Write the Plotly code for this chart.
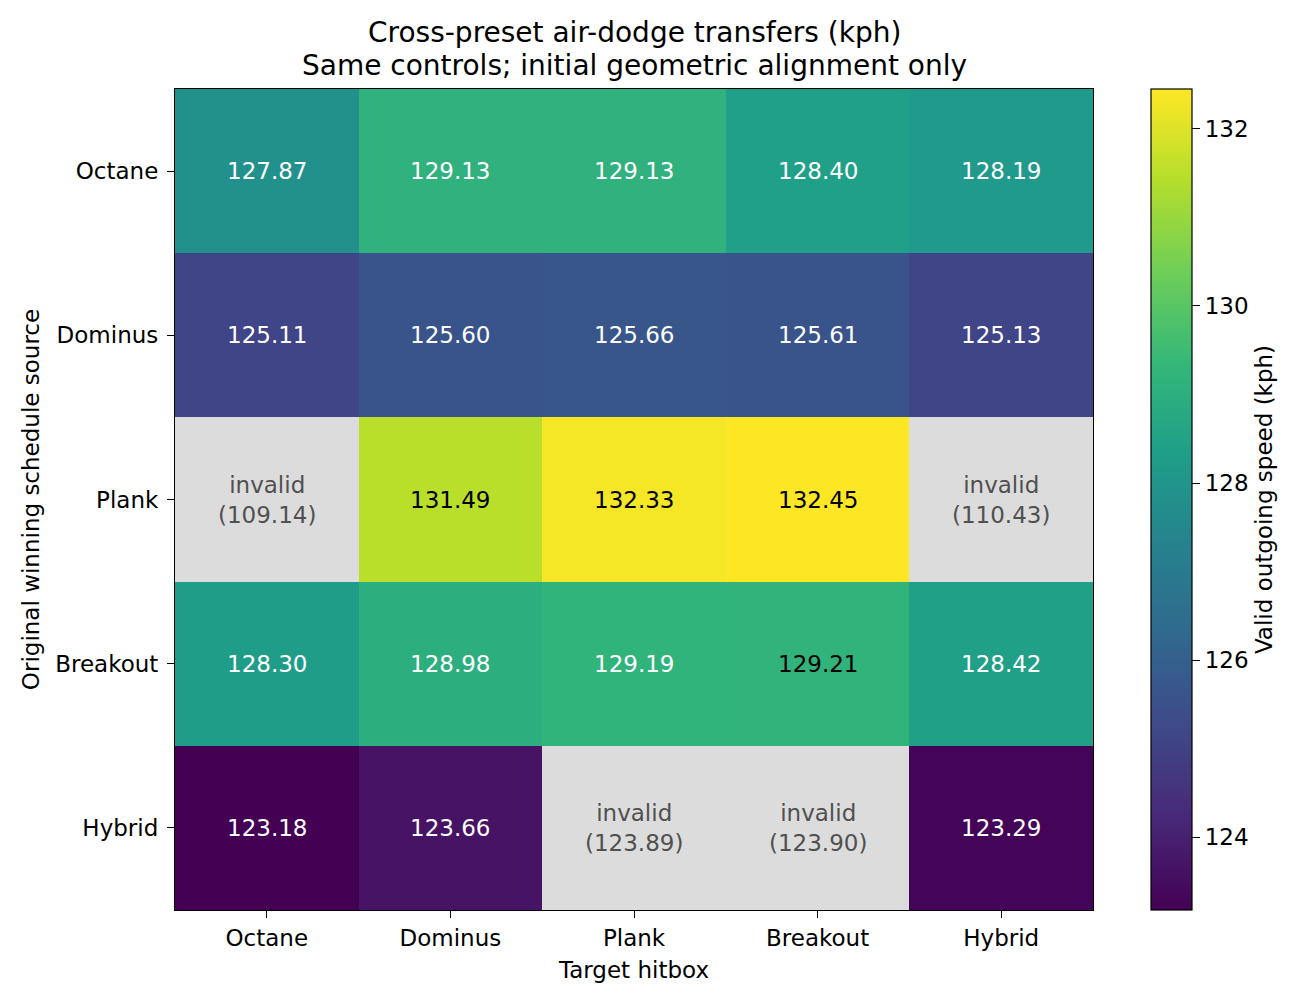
import plotly.graph_objects as go

targets = ['Octane', 'Dominus', 'Plank', 'Breakout', 'Hybrid']
sources = ['Octane', 'Dominus', 'Plank', 'Breakout', 'Hybrid']
speeds = [
    [127.87, 129.13, 129.13, 128.40, 128.19],
    [125.11, 125.60, 125.66, 125.61, 125.13],
    [109.14, 131.49, 132.33, 132.45, 110.43],
    [128.30, 128.98, 129.19, 129.21, 128.42],
    [123.18, 123.66, 123.89, 123.90, 123.29],
]
valid = [
    [1, 1, 1, 1, 1],
    [1, 1, 1, 1, 1],
    [0, 1, 1, 1, 0],
    [1, 1, 1, 1, 1],
    [1, 1, 0, 0, 1],
]
title_lines = ['Cross-preset air-dodge transfers (kph)',
               'Same controls; initial geometric alignment only']

good = [v for row, ok in zip(speeds, valid) for v, k in zip(row, ok) if k]
zmin, zmax = min(good), max(good)
z = [[v if k else None for v, k in zip(row, ok)] for row, ok in zip(speeds, valid)]

font = 'DejaVu Sans'
fs = 23
fig = go.Figure()
fig.add_trace(go.Heatmap(
    x=targets, y=sources, z=z, zmin=zmin, zmax=zmax,
    colorscale='Viridis', hoverongaps=False,
    colorbar=dict(
        x=1.0632, xanchor='left', xref='paper', y=0.5, yanchor='middle',
        xpad=0, ypad=0,
        len=1, lenmode='fraction', thickness=41, thicknessmode='pixels',
        outlinecolor='black', outlinewidth=1.2,
        ticks='outside', ticklen=8, tickcolor='black',
        tickvals=[124, 126, 128, 130, 132],
        tickfont=dict(family=font, size=fs, color='black'),
        title=dict(text='Valid outgoing speed (kph)', side='right',
                   font=dict(family=font, size=fs, color='black')),
    ),
))

annotations = []
for i, src in enumerate(sources):
    for j, tgt in enumerate(targets):
        v = speeds[i][j]
        if valid[i][j]:
            frac = (v - zmin) / (zmax - zmin)
            txt = f'{v:.2f}'
            col = 'black' if frac > 0.65 else 'white'
        else:
            txt = f'invalid<br>({v:.2f})'
            col = '#505050'
        annotations.append(dict(
            x=tgt, y=src, xref='x', yref='y', text=txt, showarrow=False,
            font=dict(family=font, size=fs, color=col),
        ))

# two-line title, placed as annotations to get matplotlib-like line spacing
for line, ypos in zip(title_lines, [1.0694, 1.0292]):
    annotations.append(dict(
        x=0.5, y=ypos, xref='paper', yref='paper', text=line, showarrow=False,
        xanchor='center', yanchor='middle',
        font=dict(family=font, size=28, color='black'),
    ))

fig.update_layout(
    width=1296, height=992,
    margin=dict(l=167, r=211, t=81, b=90),
    paper_bgcolor='white', plot_bgcolor='#dcdcdc',
    font=dict(family=font, size=fs, color='black'),
    annotations=annotations,
    xaxis=dict(
        title=dict(text='Target hitbox', standoff=12, font=dict(family=font, size=fs)),
        ticks='outside', ticklen=7, tickcolor='black',
        tickfont=dict(family=font, size=fs),
        showline=True, linecolor='black', linewidth=1.2, mirror=True,
        showgrid=False, zeroline=False,
    ),
    yaxis=dict(
        title=dict(text='Original winning schedule source', standoff=9, font=dict(family=font, size=fs)),
        autorange='reversed',
        ticks='outside', ticklen=7, tickcolor='black', ticklabelstandoff=4,
        tickfont=dict(family=font, size=fs),
        showline=True, linecolor='black', linewidth=1.2, mirror=True,
        showgrid=False, zeroline=False,
    ),
)

fig.write_html('out.html')
